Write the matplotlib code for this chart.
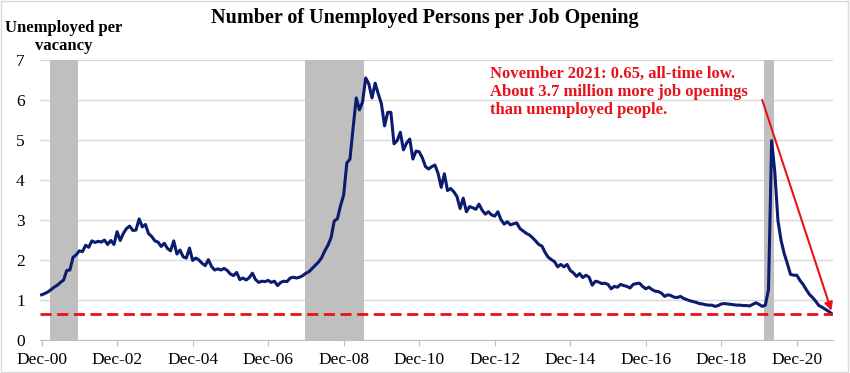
import numpy as np
import matplotlib
matplotlib.use('Agg')
import matplotlib.pyplot as plt
from matplotlib.patches import Rectangle

# monthly ratio, Dec 2000 .. Nov 2021 (index 0 = Dec-00)
ratio = [
    1.12, 1.15, 1.19, 1.25, 1.31, 1.36, 1.43, 1.49, 1.73, 1.74, 2.06, 2.12,   # Dec00-Nov01
    2.22, 2.20, 2.36, 2.31, 2.47, 2.43, 2.46, 2.44, 2.49, 2.38, 2.48, 2.38,   # Dec01-Nov02
    2.70, 2.48, 2.66, 2.78, 2.84, 2.73, 2.74, 3.02, 2.82, 2.88, 2.65, 2.58,   # Dec02-Nov03
    2.47, 2.44, 2.33, 2.41, 2.28, 2.22, 2.47, 2.14, 2.24, 2.07, 2.04, 2.29,   # Dec03-Nov04
    1.98, 2.04, 1.99, 1.91, 1.85, 2.00, 1.83, 1.74, 1.77, 1.74, 1.78, 1.73,   # Dec04-Nov05
    1.64, 1.60, 1.68, 1.50, 1.54, 1.49, 1.55, 1.66, 1.50, 1.43, 1.46, 1.45,   # Dec05-Nov06
    1.48, 1.43, 1.46, 1.35, 1.43, 1.46, 1.45, 1.54, 1.56, 1.54, 1.56, 1.60,   # Dec06-Nov07
    1.66, 1.70, 1.78, 1.86, 1.94, 2.05, 2.22, 2.36, 2.55, 2.97, 3.02, 3.35,   # Dec07-Nov08
    3.62, 4.42, 4.52, 5.30, 6.05, 5.75, 5.95, 6.55, 6.40, 6.05, 6.42, 6.15,   # Dec08-Nov09
    5.90, 5.35, 5.69, 5.69, 4.90, 4.98, 5.19, 4.75, 4.92, 5.02, 4.52, 4.72,   # Dec09-Nov10
    4.70, 4.55, 4.33, 4.27, 4.33, 4.37, 4.16, 3.81, 4.15, 3.73, 3.78, 3.70,   # Dec10-Nov11
    3.58, 3.28, 3.54, 3.20, 3.33, 3.30, 3.26, 3.39, 3.24, 3.14, 3.20, 3.12,   # Dec11-Nov12
    3.09, 3.20, 3.00, 2.89, 2.95, 2.87, 2.90, 2.92, 2.78, 2.72, 2.66, 2.62,   # Dec12-Nov13
    2.55, 2.47, 2.38, 2.34, 2.18, 2.06, 2.00, 1.95, 1.82, 1.88, 1.82, 1.88,   # Dec13-Nov14
    1.73, 1.67, 1.58, 1.65, 1.55, 1.61, 1.56, 1.36, 1.46, 1.44, 1.40, 1.41,   # Dec14-Nov15
    1.38, 1.27, 1.33, 1.31, 1.38, 1.35, 1.33, 1.29, 1.38, 1.40, 1.41, 1.33,   # Dec15-Nov16
    1.27, 1.31, 1.25, 1.21, 1.20, 1.16, 1.08, 1.12, 1.10, 1.06, 1.05, 1.08,   # Dec16-Nov17
    1.03, 1.00, 0.97, 0.95, 0.93, 0.90, 0.89, 0.87, 0.86, 0.86, 0.83, 0.85,   # Dec17-Nov18
    0.89, 0.90, 0.89, 0.88, 0.87, 0.86, 0.86, 0.85, 0.85, 0.84, 0.88, 0.92,   # Dec18-Nov19
    0.88, 0.83, 0.86, 1.25, 4.98, 4.20, 2.98, 2.48, 2.15, 1.90, 1.63, 1.61,   # Dec19-Nov20
    1.61, 1.48, 1.38, 1.25, 1.13, 1.05, 0.96, 0.85, 0.81, 0.76, 0.71, 0.65,   # Dec20-Nov21
]

# recessions as (first month, last month) in month index
recessions = [(3, 11), (84, 102), (230, 232)]

tick_months = list(range(0, 252, 24))
tick_labels = ['Dec-00', 'Dec-02', 'Dec-04', 'Dec-06', 'Dec-08', 'Dec-10',
               'Dec-12', 'Dec-14', 'Dec-16', 'Dec-18', 'Dec-20']

low_value = 0.65
note = ('November 2021: 0.65, all-time low.\n'
        'About 3.7 million more job openings\n'
        'than unemployed people.')

serif = ['Liberation Serif', 'DejaVu Serif']
navy = '#0b1c6e'
red = '#e8121a'

fig = plt.figure(figsize=(8.5, 3.73), dpi=100)
ax = fig.add_axes([40 / 850, 33.5 / 373, 793 / 850, 279.5 / 373])

for start, end in recessions:
    ax.axvspan(start - 0.4, end + 0.6, color='#bfbfbf', lw=0, zorder=1)

months = np.arange(len(ratio))
ax.plot(months, ratio, color=navy, lw=2.2, zorder=3)
ax.axhline(low_value, color=red, lw=2, ls=(0, (4, 2)), zorder=4)

ax.annotate('', xy=(months[-1], 0.72), xytext=(229, 6.0),
            arrowprops=dict(arrowstyle='-|>', color=red, lw=1.5,
                            mutation_scale=12, shrinkA=0, shrinkB=0),
            zorder=5)
ax.text(142.5, 6.85, note, color=red, fontsize=12, fontweight='bold',
        family=serif, va='top', ha='left', linespacing=1.15)

ax.set_xlim(-0.5, 251.5)
ax.set_ylim(0, 7)
ax.set_yticks(range(8))
ax.set_xticks(tick_months)
ax.set_xticklabels(tick_labels)
ax.yaxis.grid(True, color='#d9d9d9', lw=1)
ax.set_axisbelow(True)
for side in ['top', 'right', 'left']:
    ax.spines[side].set_visible(False)
ax.spines['bottom'].set_color('#bfbfbf')
ax.tick_params(axis='y', length=0, pad=11, labelsize=12.5)
ax.tick_params(axis='x', length=4, color='#bfbfbf', pad=5, labelsize=12.5)
for lab in ax.get_xticklabels() + ax.get_yticklabels():
    lab.set_family(serif)

fig.text(0.5, 1 - 18 / 373, 'Number of Unemployed Persons per Job Opening',
         ha='center', va='center', fontsize=14.5, fontweight='bold', family=serif)
fig.text(64 / 850, 1 - 37 / 373, 'Unemployed per\nvacancy', ha='center',
         va='center', fontsize=12, fontweight='bold', family=serif,
         linespacing=1.15)

fig.patches.append(Rectangle((0.001, 0.002), 0.997, 0.995, transform=fig.transFigure,
                             fill=False, edgecolor='#d9d9d9', lw=1))

fig.savefig('out.png', dpi=100)
